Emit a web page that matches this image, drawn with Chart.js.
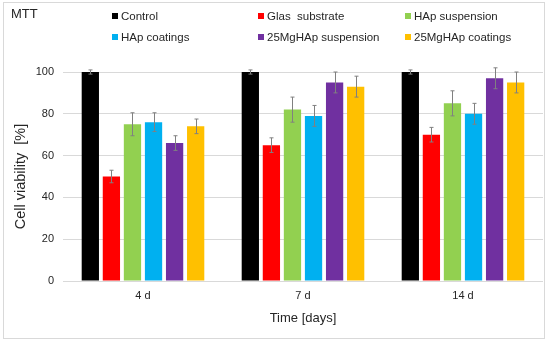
<!DOCTYPE html>
<html>
<head>
<meta charset="utf-8">
<script src="https://cdn.jsdelivr.net/npm/chart.js@4/dist/chart.umd.min.js"></script>
<style>
html,body{margin:0;padding:0;background:#fff;}
#wrap{width:550px;height:345px;position:relative;}
</style>
</head>
<body>
<div id="wrap"><canvas id="c" width="550" height="345"></canvas></div>
<script>
const chartTitle = 'MTT';
const categories = ['4 d', '7 d', '14 d'];
const seriesNames = ['Control', 'Glas  substrate', 'HAp suspension', 'HAp coatings', '25MgHAp suspension', '25MgHAp coatings'];
const controlValues = [100, 100, 100];
const controlErrors = [1, 1, 1];
const glasValues = [50, 65, 70];
const glasErrors = [3, 3.5, 3.5];
const hapSuspValues = [75, 82, 85];
const hapSuspErrors = [5.5, 6, 6];
const hapCoatValues = [76, 79, 80];
const hapCoatErrors = [4.5, 5, 5];
const mgSuspValues = [66, 95, 97];
const mgSuspErrors = [3.5, 5, 5];
const mgCoatValues = [74, 93, 95];
const mgCoatErrors = [3.5, 5, 5];
const yTickValues = [0, 20, 40, 60, 80, 100];
const xAxisTitle = 'Time [days]';
const yAxisTitle = 'Cell viability  [%]';

const colors = ['#000000', '#FF0000', '#92D050', '#00B0F0', '#7030A0', '#FFC000'];
const allValues = [controlValues, glasValues, hapSuspValues, hapCoatValues, mgSuspValues, mgCoatValues];
const allErrors = [controlErrors, glasErrors, hapSuspErrors, hapCoatErrors, mgSuspErrors, mgCoatErrors];

const FONT = "'Liberation Sans', Arial, sans-serif";

const datasets = seriesNames.map((name, i) => ({
  label: name,
  data: allValues[i],
  errors: allErrors[i],
  backgroundColor: colors[i],
  borderWidth: 0,
  categoryPercentage: 0.79,
  barPercentage: 0.82
}));

const errorBarPlugin = {
  id: 'errorBars',
  afterDatasetsDraw(chart) {
    const ctx = chart.ctx;
    const y = chart.scales.y;
    ctx.save();
    ctx.strokeStyle = '#808080';
    ctx.lineWidth = 1;
    chart.data.datasets.forEach((ds, di) => {
      const meta = chart.getDatasetMeta(di);
      meta.data.forEach((bar, j) => {
        const v = ds.data[j], e = ds.errors[j];
        const x = Math.round(bar.x) + 0.5;
        const yt = y.getPixelForValue(v + e);
        const yb = y.getPixelForValue(v - e);
        ctx.beginPath();
        ctx.moveTo(x, yt); ctx.lineTo(x, yb);
        ctx.moveTo(x - 2, yt); ctx.lineTo(x + 2, yt);
        ctx.moveTo(x - 2, yb); ctx.lineTo(x + 2, yb);
        ctx.stroke();
      });
    });
    ctx.restore();
  }
};

const legendPlugin = {
  id: 'customLegend',
  afterDraw(chart) {
    const ctx = chart.ctx;
    ctx.save();
    // frame
    ctx.strokeStyle = '#d9d9d9';
    ctx.lineWidth = 1;
    ctx.strokeRect(3.5, 2.5, 541, 336);
    // title
    ctx.fillStyle = '#262626';
    ctx.font = '13px ' + FONT;
    ctx.textBaseline = 'middle';
    ctx.textAlign = 'left';
    ctx.fillText(chartTitle, 11, 14);
    // legend
    const colX = [112, 258, 405];
    const rowY = [16, 37];
    ctx.font = '11.5px ' + FONT;
    chart.data.datasets.forEach((ds, i) => {
      const cx = colX[i % 3], cy = rowY[Math.floor(i / 3)];
      ctx.fillStyle = ds.backgroundColor;
      ctx.fillRect(cx, cy - 3, 6, 6);
      ctx.fillStyle = '#262626';
      ctx.fillText(ds.label, cx + 9, cy + 0.5);
    });
    ctx.restore();
  }
};

new Chart(document.getElementById('c'), {
  type: 'bar',
  data: { labels: categories, datasets },
  options: {
    responsive: false,
    animation: false,
    devicePixelRatio: 1,
    layout: { padding: { left: 8, right: 7, top: 72, bottom: 15 } },
    plugins: { legend: { display: false }, tooltip: { enabled: false }, title: { display: false } },
    scales: {
      x: {
        grid: { display: false, drawTicks: false },
        border: { display: false },
        ticks: { color: '#262626', font: { family: FONT, size: 11 }, padding: 8 },
        title: { display: true, text: xAxisTitle, color: '#262626', font: { family: FONT, size: 13 } },
        afterFit(s) { s.height = 49; }
      },
      y: {
        min: 0, max: 100,
        afterBuildTicks(s) { s.ticks = yTickValues.map(v => ({ value: v })); },
        grid: { color: '#d9d9d9', drawTicks: false },
        border: { display: false },
        ticks: { color: '#262626', font: { family: FONT, size: 11 }, padding: 9 },
        title: { display: true, text: yAxisTitle, color: '#262626', font: { family: FONT, size: 14.5 } },
        afterFit(s) { s.width = 55; }
      }
    }
  },
  plugins: [errorBarPlugin, legendPlugin]
});
</script>
</body>
</html>
